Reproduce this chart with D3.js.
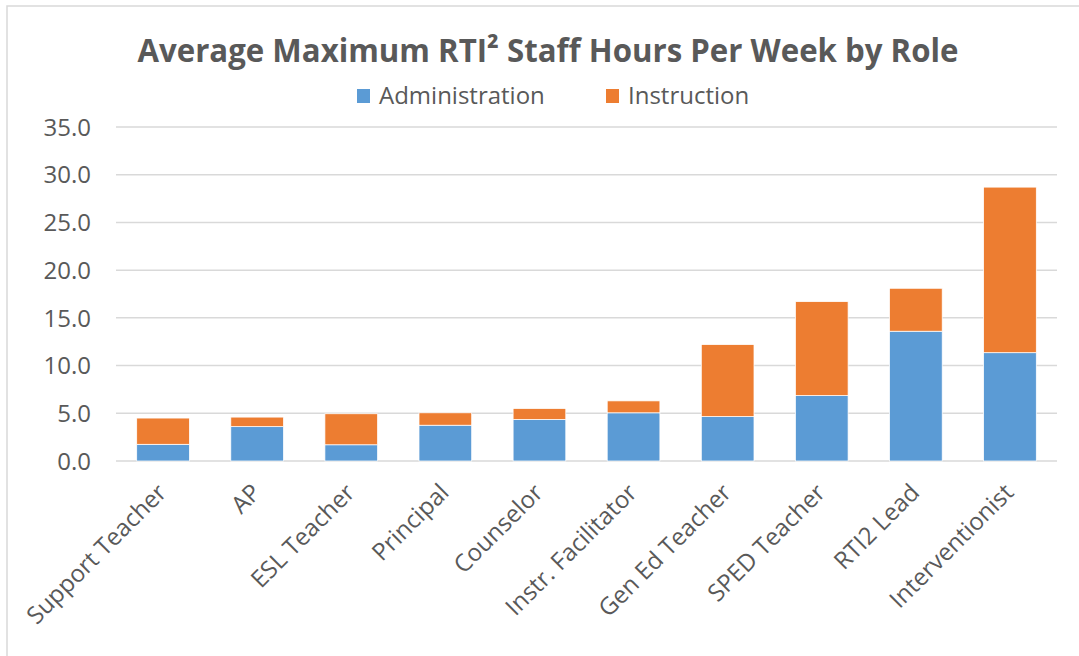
<!DOCTYPE html>
<html><head><meta charset="utf-8">
<script src="https://cdn.jsdelivr.net/npm/d3@7"></script>
<style>body{margin:0;background:#fff}svg{display:block}</style>
</head><body>
<svg id="c" width="1079" height="656"></svg>
<script>
const categories = ["Support Teacher","AP","ESL Teacher","Principal","Counselor","Instr. Facilitator","Gen Ed Teacher","SPED Teacher","RTI2 Lead","Interventionist"];
const administration = [1.75, 3.6, 1.7, 3.75, 4.35, 5.05, 4.65, 6.85, 13.6, 11.35];
const instruction = [2.75, 1.0, 3.25, 1.3, 1.15, 1.25, 7.55, 9.85, 4.5, 17.35];
const seriesNames = ["Administration","Instruction"];
const yTicks = [0,5,10,15,20,25,30,35];
const titleText = "Average Maximum RTI² Staff Hours Per Week by Role";

const colors = ["#5B9BD5","#ED7D31"];
const svg = d3.select("#c");
const W = 1079, H = 656;
const m = {left:116, right:1057, top:127, bottom:461};

// chart border
svg.append("rect").attr("x",7).attr("y",6).attr("width",W+20).attr("height",H+20)
  .attr("fill","none").attr("stroke","#D9D9D9").attr("stroke-width",1.5);

const x = d3.scaleBand().domain(categories).range([m.left,m.right]).paddingInner(0.44).paddingOuter(0.22);
const y = d3.scaleLinear().domain([0,35]).range([m.bottom,m.top]);

// grid
svg.append("g").selectAll("line").data(yTicks).join("line")
  .attr("x1",m.left).attr("x2",m.right)
  .attr("y1",d=>y(d)).attr("y2",d=>y(d))
  .attr("stroke","#D9D9D9").attr("stroke-width",1.5);

// y axis labels
const yAxis = d3.axisLeft(y).tickValues(yTicks).tickFormat(d3.format(".1f")).tickSize(0).tickPadding(0);
const ya = svg.append("g").attr("transform",`translate(91,0)`).call(yAxis);
ya.select(".domain").remove();
ya.selectAll("text").attr("font-family","'Open Sans'").attr("font-size",24).attr("fill","#595959").attr("dy","0.34em");

// stacked bars
const rows = categories.map((c,i)=>({cat:c, Administration:administration[i], Instruction:instruction[i]}));
const stack = d3.stack().keys(seriesNames)(rows);
svg.append("g").selectAll("g").data(stack).join("g")
  .attr("fill",(d,i)=>colors[i])
  .selectAll("rect").data(d=>d).join("rect")
  .attr("x",d=>x(d.data.cat)).attr("width",x.bandwidth())
  .attr("y",d=>y(d[1])).attr("height",d=>y(d[0])-y(d[1]))
  .attr("stroke","#fff").attr("stroke-width",0.75);

// x axis labels
const xAxis = d3.axisBottom(x).tickSize(0).tickPadding(0);
const xa = svg.append("g").attr("transform",`translate(0,${m.bottom})`).call(xAxis);
xa.select(".domain").remove();
xa.selectAll("text").attr("font-family","'Open Sans'").attr("font-size",24).attr("fill","#595959")
  .attr("text-anchor","end").attr("dy",null).attr("y",0)
  .attr("transform","translate(5,33) rotate(-45)");

// title
svg.append("text").attr("x",548).attr("y",62).attr("text-anchor","middle")
  .attr("font-family","'Open Sans'").attr("font-weight","bold").attr("font-size",33)
  .attr("fill","#595959").attr("textLength",821).attr("lengthAdjust","spacingAndGlyphs")
  .text(titleText);

// legend
const legX = [357, 606];
const lg = svg.append("g").selectAll("g").data(seriesNames).join("g")
  .attr("transform",(d,i)=>`translate(${legX[i]},0)`);
lg.append("rect").attr("x",0).attr("y",89).attr("width",13).attr("height",14).attr("fill",(d,i)=>colors[i]);
lg.append("text").attr("x",22).attr("y",104).attr("font-family","'Open Sans'").attr("font-size",24)
  .attr("fill","#595959").text(d=>d);
</script>
</body></html>
